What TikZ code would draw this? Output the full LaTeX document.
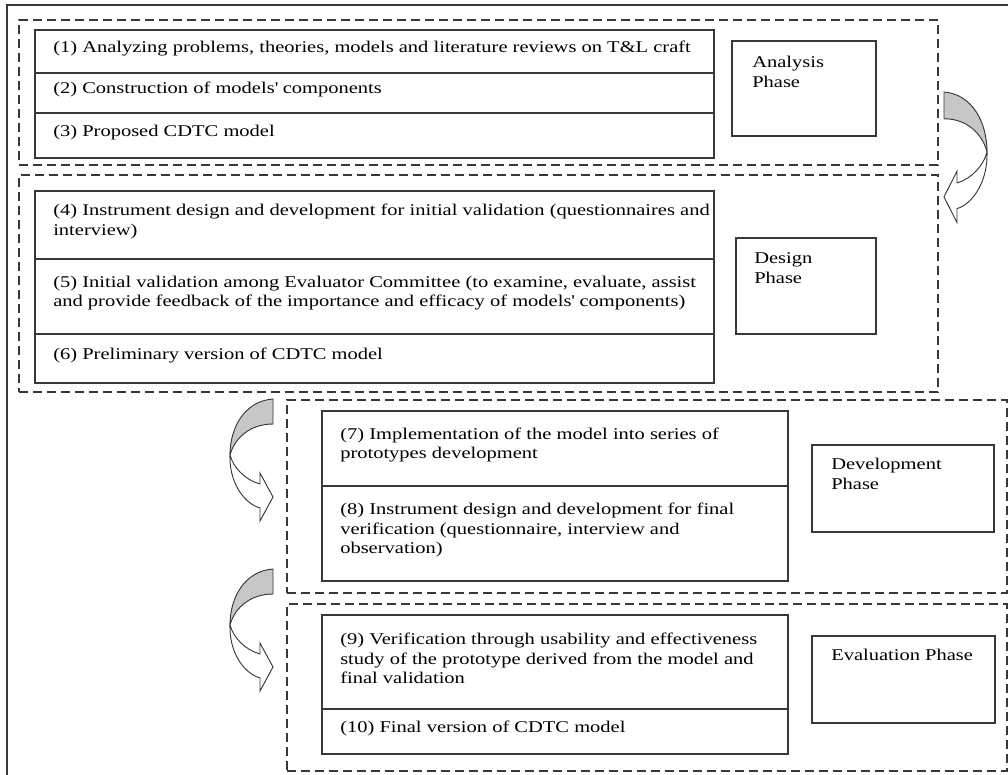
\documentclass[tikz,border=0pt]{standalone}
\usepackage{fontspec}
\setmainfont{Liberation Serif}[FakeStretch=1.25]
\usepackage{tikz}
\usepackage{xcolor}
\definecolor{framegray}{rgb}{0.22,0.22,0.22}
\definecolor{arrowgray}{rgb}{0.78,0.78,0.78}
\tikzset{
  group/.style 2 args = {draw=framegray, line width=1.1pt, dash pattern=on 6.75pt off 3.75pt,
    anchor=north west, outer sep=0pt, inner sep=0pt, minimum width=#1*0.75pt, minimum height=#2*0.75pt},
  row/.style 2 args = {draw=framegray, line width=0.9pt, anchor=north west, outer sep=0pt,
    inner sep=0pt, minimum width=#1*0.75pt, minimum height=#2*0.75pt},
  rowtext/.style = {anchor=west, align=left, inner sep=0pt, xshift=13.5pt, yshift=2.5pt},
  phasetext/.style = {anchor=base west, align=left, inner sep=0pt},
  bendarrow/.pic = {
    \filldraw[draw=framegray, fill=arrowgray, line width=0.7pt] (0,0) .. controls (-28,2) and (-43,28) .. (-43,56)
      .. controls (-38,38) and (-22,25) .. (0,25) -- cycle;
    \filldraw[draw=framegray, fill=white, line width=0.7pt] (-43,56) .. controls (-44,82) and (-30,104) .. (-13,109)
      -- (-13,122) -- (0,98) -- (-13,74) -- (-13,85) .. controls (-28,81) and (-40,68) .. (-43,56) -- cycle;
  }
}

\begin{document}
\begin{tikzpicture}[x=0.75pt, y=-0.75pt, font=\fontsize{12.3}{14.6}\selectfont]

  \useasboundingbox (0,0) rectangle (1008,775);
  \draw[framegray, line width=0.9pt] (1008,5) -- (7,5) -- (7,775);

  % analysis
  \node at (19,20) [group={919}{145}] (ga) {};
  \node at (35,30) [row={679}{43}] (r1) {};
  \node at (r1.south west) [row={679}{40}] (r2) {};
  \node at (r2.south west) [row={679}{45}] (r3) {};
  \node at (r1.west) [rowtext] (t1) {(1) Analyzing problems, theories, models and literature reviews on T\&L craft};
  \node at (r2.west) [rowtext] (t2) {(2) Construction of models\textquotesingle{} components};
  \node at (r3.west) [rowtext] (t3) {(3) Proposed CDTC model};
  \node at (732,41) [row={144}{95}] (pa) {};
  \node at ([shift={(20,46)}]pa.north west) [phasetext] (pat) {Analysis\\Phase};

  % design
  \node at (19,175) [group={919}{217}] (gd) {};
  \node at (35,191) [row={679}{68}] (r4) {};
  \node at (r4.south west) [row={679}{75}] (r5) {};
  \node at (r5.south west) [row={679}{49}] (r6) {};
  \node at (r4.west) [rowtext] (t4) {(4) Instrument design and development for initial validation (questionnaires and\\interview)};
  \node at (r5.west) [rowtext] (t5) {(5) Initial validation among Evaluator Committee (to examine, evaluate, assist\\and provide feedback of the importance and efficacy of models\textquotesingle{} components)};
  \node at (r6.west) [rowtext] (t6) {(6) Preliminary version of CDTC model};
  \node at (736,238) [row={140}{96}] (pd) {};
  \node at ([shift={(18,45)}]pd.north west) [phasetext] (pdt) {Design\\Phase};

  % development
  \node at (287,400) [group={720}{193}] (gv) {};
  \node at (322,411) [row={466}{75}] (r7) {};
  \node at (r7.south west) [row={466}{95}] (r8) {};
  \node at (r7.west) [rowtext] (t7) {(7) Implementation of the model into series of\\prototypes development};
  \node at (r8.west) [rowtext] (t8) {(8) Instrument design and development for final\\verification (questionnaire, interview and\\observation)};
  \node at (812,445) [row={182}{87}] (pv) {};
  \node at ([shift={(19,44)}]pv.north west) [phasetext] (pvt) {Development\\Phase};

  % evaluation
  \node at (287,604) [group={720}{167}] (ge) {};
  \node at (322,615) [row={466}{94}] (r9) {};
  \node at (r9.south west) [row={466}{45}] (r10) {};
  \node at (r9.west) [rowtext] (t9) {(9) Verification through usability and effectiveness\\study of the prototype derived from the model and\\final validation};
  \node at (r10.west) [rowtext] (t10) {(10) Final version of CDTC model};
  \node at (812,636) [row={183}{87}] (pe) {};
  \node at ([shift={(19,24)}]pe.north west) [phasetext] (pet) {Evaluation Phase};

  \pic at (944,92) [xscale=-1, yscale=1.07] {bendarrow};
  \pic at (273,399) {bendarrow};
  \pic at (273,569) {bendarrow};
\end{tikzpicture}
\end{document}
